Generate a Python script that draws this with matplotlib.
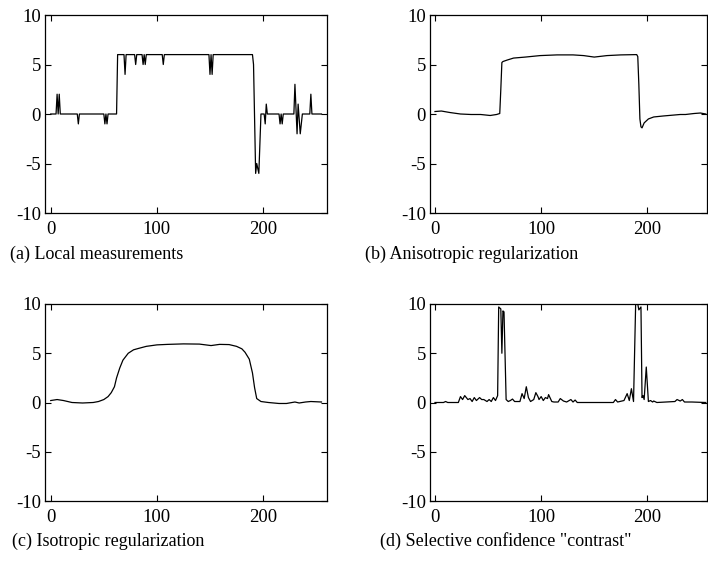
#!/usr/bin/env python3
# -*- coding: utf-8 -*-
"""
Four panels: local measurements, regularized estimates and confidence.
"""

import matplotlib
matplotlib.use('Agg')
import matplotlib.pyplot

# (a) local measurements: vertices of the piecewise signal
local_x = [0, 5, 6, 7, 8, 9, 25, 26, 27, 50, 51, 52, 53, 54, 62, 63,
           69, 70, 71, 79, 80, 81, 86, 87, 88, 89, 90, 105, 106, 107,
           149, 150, 151, 152, 153, 190, 191, 193, 194, 196, 198,
           201, 202, 203, 204, 215, 216, 217, 218, 219,
           229, 230, 232, 233, 235, 237, 244, 245, 246, 255]
local_y = [0, 0, 2, 0, 2, 0, 0, -1, 0, 0, -1, 0, -1, 0, 0, 6,
           6, 4, 6, 6, 5, 6, 6, 5, 6, 5, 6, 6, 5, 6,
           6, 4, 6, 4, 6, 6, 5, -6, -5, -6, 0,
           0, -1, 1, 0, 0, -1, 0, -1, 0,
           0, 3, -2, 1, -2, 0, 0, 2, 0, 0]

# (b) anisotropic regularization
aniso_x = [0, 6, 14, 24, 34, 43, 52, 58, 61, 62, 63, 64, 68, 74, 85,
           99, 115, 130, 140, 150, 162, 175, 190, 191, 192, 193, 194,
           195, 197, 201, 206, 215, 231, 236, 244, 250, 255]
aniso_y = [0.25, 0.3, 0.15, 0.0, -0.05, -0.05, -0.15, -0.05, 0.05, 2.5,
           5.2, 5.3, 5.45, 5.65, 5.75, 5.9, 5.97, 5.97, 5.9, 5.75, 5.9,
           5.97, 6.0, 5.8, 3.0, -0.5, -1.3, -1.4, -0.9, -0.5, -0.3,
           -0.2, -0.05, -0.05, 0.05, 0.1, 0.0]

# (c) isotropic regularization
iso_x = [0, 6, 12, 20, 30, 40, 45, 50, 54, 57, 60, 62, 65, 68, 73, 78,
         83, 90, 100, 110, 125, 140, 151, 159, 168, 175, 180, 183, 187,
         190, 192, 194, 198, 205, 215, 222, 230, 234, 240, 245, 255]
iso_y = [0.2, 0.3, 0.2, 0.0, -0.05, 0.0, 0.1, 0.3, 0.6, 1.0, 1.6, 2.5,
         3.5, 4.3, 5.0, 5.35, 5.5, 5.7, 5.85, 5.9, 5.95, 5.93, 5.78,
         5.9, 5.88, 5.7, 5.45, 5.1, 4.4, 3.0, 1.5, 0.4, 0.1, 0.0, -0.1,
         -0.1, 0.05, -0.05, 0.05, 0.1, 0.05]

# (d) selective confidence "contrast"
conf_x = [0, 8, 10, 12, 22, 24, 26, 28, 31, 33, 35, 37, 39, 42, 44, 46,
          49, 51, 53, 55, 57, 59, 60, 62, 63, 64, 65, 67, 69, 71, 73,
          75, 80, 82, 84, 86, 88, 90, 93, 95, 97, 98, 100, 102, 104,
          106, 107, 110, 112, 116, 118, 121, 124, 128, 130, 132, 134,
          168, 170, 172, 178, 181, 183, 185, 187, 189, 191, 192, 194,
          195, 196, 197, 199, 201, 203, 205, 206, 209, 226, 228, 231,
          233, 235, 242, 255]
conf_y = [0.0, 0.0, 0.1, 0.0, 0.0, 0.6, 0.3, 0.7, 0.3, 0.4, 0.1, 0.5,
          0.2, 0.5, 0.3, 0.3, 0.1, 0.3, 0.1, 0.5, 0.2, 0.7, 9.7, 9.5,
          5.0, 9.3, 9.2, 0.3, 0.1, 0.2, 0.35, 0.1, 0.1, 0.9, 0.4, 1.6,
          0.5, 0.1, 0.3, 1.0, 0.6, 0.3, 0.6, 0.2, 0.5, 0.4, 0.8, 0.1,
          0.05, 0.05, 0.4, 0.15, 0.05, 0.3, 0.05, 0.25, 0.0,
          0.0, 0.3, 0.05, 0.2, 0.9, 0.2, 1.4, 0.1, 10.0, 10.0, 9.4, 9.7,
          0.5, 0.7, 0.3, 3.6, 0.1, 0.2, 0.05, 0.15, 0.0, 0.1, 0.3, 0.15,
          0.3, 0.05, 0.05, 0.0]

captions = ['(a) Local measurements',
            '(b) Anisotropic regularization',
            '(c) Isotropic regularization',
            '(d) Selective confidence "contrast"']

WIDTH, HEIGHT = 708, 569


def pixel_box(left, top, right, bottom):
    return [left / WIDTH, 1 - bottom / HEIGHT,
            (right - left) / WIDTH, (bottom - top) / HEIGHT]


def main():
    matplotlib.pyplot.rcParams['font.family'] = ['Liberation Serif']
    figure = matplotlib.pyplot.figure(figsize=(WIDTH / 100, HEIGHT / 100),
                                      dpi=100)
    panels = [
        (pixel_box(45, 15, 327, 213), (-5.4, 260.2), local_x, local_y,
         (10, 254)),
        (pixel_box(430, 15, 707, 213), (-4.7, 256.2), aniso_x, aniso_y,
         (365, 254)),
        (pixel_box(45, 304, 327, 501), (-5.4, 260.2), iso_x, iso_y,
         (12, 541)),
        (pixel_box(430, 304, 707, 501), (-4.7, 256.2), conf_x, conf_y,
         (380, 541)),
    ]
    for (box, xlim, xs, ys, text_at), caption in zip(panels, captions):
        axes = figure.add_axes(box)
        axes.plot(xs, ys, color='black', linewidth=0.9)
        axes.set_xlim(*xlim)
        axes.set_ylim(-10, 10)
        axes.set_xticks([0, 100, 200])
        axes.set_yticks([-10, -5, 0, 5, 10])
        axes.set_yticklabels(['-10', '-5', '0', '5', '10'])
        axes.tick_params(direction='in', length=4, width=0.8,
                         top=True, right=True, labelsize=13.5)
        axes.tick_params(axis='x', pad=5.5)
        axes.tick_params(axis='y', pad=3)
        for spine in axes.spines.values():
            spine.set_linewidth(0.9)
        figure.text(text_at[0] / WIDTH, 1 - text_at[1] / HEIGHT, caption,
                    fontsize=13, ha='left', va='center')
    figure.savefig('out.png', dpi=100)
    matplotlib.pyplot.close()


if __name__ == '__main__':
    main()
